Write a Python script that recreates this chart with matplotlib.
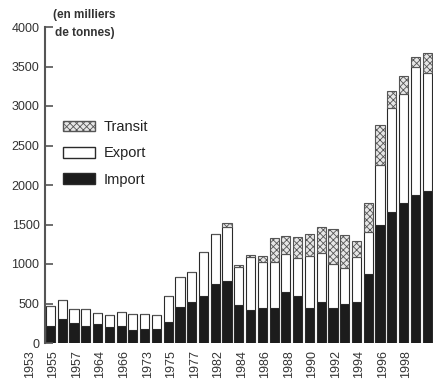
import matplotlib
matplotlib.use("Agg")
import matplotlib.pyplot as plt
import matplotlib.transforms as mtransforms
from matplotlib.patches import Patch
import numpy as np

plt.rcParams['font.family'] = ['Liberation Sans', 'DejaVu Sans']
plt.rcParams['hatch.linewidth'] = 0.6

# Data (thousands of tonnes), one value per bar
import_vals = [210, 300, 249, 220, 240, 198, 215, 165, 181, 177, 262, 452, 515, 599, 747,
               789, 481, 418, 439, 439, 650, 599, 447, 523, 447, 490, 523, 870, 1494, 1662,
               1776, 1874, 1928]
export_vals = [260, 244, 181, 206, 136, 156, 182, 202, 186, 177, 333, 379, 388, 557, 633,
               676, 486, 666, 592, 590, 477, 473, 659, 612, 553, 455, 570, 539, 759, 1309,
               1372, 1616, 1486]
transit_vals = [0, 0, 0, 0, 0, 0, 0, 0, 0, 0, 0, 0, 0, 0, 0,
                50, 20, 30, 70, 296, 228, 274, 274, 338, 443, 422, 198, 367, 507, 223,
                232, 135, 261]
tick_labels = ["1953", "1955", "1957", "1964", "1966", "1973", "1975", "1977", "1982",
               "1984", "1986", "1988", "1990", "1992", "1994", "1996", "1998"]
y_ticks = [0, 500, 1000, 1500, 2000, 2500, 3000, 3500, 4000]

W, H = 434, 379
fig = plt.figure(figsize=(W / 100, H / 100), dpi=100)
ax = fig.add_axes([45 / W, 36 / H, 388 / W, 316 / H])

n = len(import_vals)
x = np.arange(n)
imp = np.array(import_vals)
exp_ = np.array(export_vals)
tra = np.array(transit_vals)
bw = 0.78
edge = '#2a2a2a'
ax.bar(x, imp, width=bw, color='#1c1c1c', edgecolor=edge, linewidth=0.8, label='Import')
ax.bar(x, exp_, bottom=imp, width=bw, color='white', edgecolor=edge, linewidth=0.8, label='Export')
ax.bar(x, tra, bottom=imp + exp_, width=bw, color='#e6e6e6', edgecolor='#555555',
       hatch='xxxxx', linewidth=0.8, label='Transit')

ax.set_xlim(-0.47, 32.5)
ax.set_ylim(0, 4000)
ax.set_yticks(y_ticks)
ax.set_yticklabels([str(v) for v in y_ticks], fontsize=9, color='#333333')
ax.tick_params(axis='y', direction='in', length=6, width=1.2, color='#555555', pad=4)
ax.set_xticks([])
for s in ['top', 'right', 'bottom']:
    ax.spines[s].set_visible(False)
ax.spines['left'].set_color('#555555')
ax.spines['left'].set_linewidth(1.5)

# year labels (placed as in the original, offset from bars)
trans = mtransforms.blended_transform_factory(ax.transData, ax.transAxes)
for k, lab in enumerate(tick_labels):
    ax.text(2 * k - 1.75, -0.022, lab, rotation=90, ha='center', va='top',
            fontsize=9, color='#333333', transform=trans, clip_on=False)

# unit label
fig.text(53 / W, 1 - 15 / H, "(en milliers", fontsize=8.5, fontweight='bold',
         color='#333333', ha='left', va='center')
fig.text(55 / W, 1 - 33 / H, "de tonnes)", fontsize=8.5, fontweight='bold',
         color='#333333', ha='left', va='center')

handles = [Patch(facecolor='#e6e6e6', edgecolor='#555555', hatch='xxxxx', label='Transit'),
           Patch(facecolor='white', edgecolor=edge, label='Export'),
           Patch(facecolor='#1c1c1c', edgecolor=edge, label='Import')]
fig.legend(handles=handles, loc='upper left', bbox_to_anchor=(63 / W, 1 - 120 / H),
           frameon=False, fontsize=10.5, handlelength=2.2, handleheight=0.75,
           labelspacing=0.85, handletextpad=0.6, borderpad=0, borderaxespad=0,
           labelcolor='#222222')

fig.savefig("out.png", dpi=100)
